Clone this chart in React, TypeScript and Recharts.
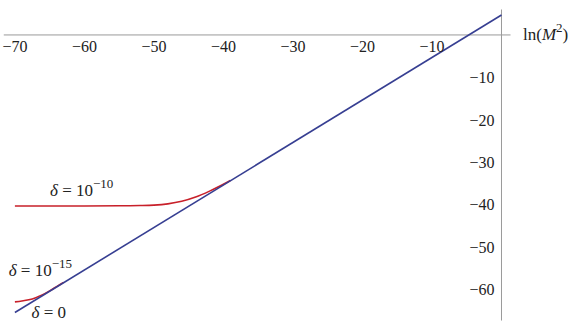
import React from 'react';
import { LineChart, Line, XAxis, YAxis, ReferenceLine, ReferenceDot } from 'recharts';

// delta = 0 (straight line)
const blueX = [-70, 0];
const blueY = [-65.4, 4.7];

// delta = 10^-10
const red10X = [-70, -60, -55, -52, -50, -48, -46, -44, -42, -40.5, -39];
const red10Y = [-40.3, -40.3, -40.25, -40.2, -40.1, -39.8, -39.2, -38.2, -36.8, -35.6, -34.3];

// delta = 10^-15
const red15X = [-70, -69, -68, -67, -66, -65, -64, -63];
const red15Y = [-62.9, -62.7, -62.4, -61.9, -61.2, -60.3, -59.3, -58.3];

const xTicks = [-70, -60, -50, -40, -30, -20, -10];
const yTicks = [-10, -20, -30, -40, -50, -60];

const BLUE = '#373f92';
const RED = '#c8202a';
const AXIS = '#9a9a9a';
const TEXT = '#222';
const FONT = '"Liberation Serif", "DejaVu Serif", serif';
const SUP_SHIFT = 8;

const toPoints = (xs: number[], ys: number[]) => xs.map((x, i) => ({ x, y: ys[i] }));

const minus = (n: number) => (n < 0 ? '\u2212' + Math.abs(n) : String(n));

// label with italic parts and superscripts
const RichLabel = ({ viewBox, parts }: any) => {
    const x = viewBox.x + viewBox.width / 2;
    const y = viewBox.y + viewBox.height / 2;
    let prevSup = false;
    return (
        <text x={x} y={y} dy="0.35em" textAnchor="start" fontFamily={FONT} fontSize={17} fill={TEXT}>
            {parts.map((p: any, i: number) => {
                let dy: number | undefined;
                if (p.sup && !prevSup) dy = -SUP_SHIFT;
                if (!p.sup && prevSup) dy = SUP_SHIFT;
                prevSup = !!p.sup;
                return (
                    <tspan key={i} dy={dy} fontSize={p.sup ? 13 : 17} fontStyle={p.i ? 'italic' : 'normal'}>{p.t}</tspan>
                );
            })}
        </text>
    );
};

export default function App() {
    return (
        <div style={{ position: 'absolute', left: 0, top: 0, width: 572, height: 334, background: '#fff' }}>
            <LineChart width={572} height={334} margin={{ top: 1, right: 1, bottom: 2, left: 1 }}>
                <XAxis type="number" dataKey="x" domain={[-72, 10]} hide allowDataOverflow />
                <YAxis type="number" dataKey="y" domain={[-70, 8]} hide allowDataOverflow />

                {/* axes crossing at the origin */}
                <ReferenceLine segment={[{ x: -71.6, y: 0 }, { x: 1.3, y: 0 }]} stroke={AXIS} strokeWidth={1} />
                <ReferenceLine segment={[{ x: 0, y: 6 }, { x: 0, y: -67.3 }]} stroke={AXIS} strokeWidth={1} />

                {xTicks.map(t => (
                    <ReferenceDot key={'xt' + t} x={t} y={0} r={1} fill="none" stroke="none"
                        label={{ value: minus(t), position: 'bottom', offset: 5, fill: TEXT, fontSize: 16, fontFamily: FONT }} />
                ))}
                {yTicks.map(t => (
                    <ReferenceDot key={'yt' + t} x={0} y={t} r={1} fill="none" stroke="none"
                        label={{ value: minus(t), position: 'left', offset: 6, fill: TEXT, fontSize: 16, fontFamily: FONT }} />
                ))}

                <Line data={toPoints(red10X, red10Y)} dataKey="y" type="monotone" stroke={RED} strokeWidth={1.6} dot={false} isAnimationActive={false} />
                <Line data={toPoints(red15X, red15Y)} dataKey="y" type="monotone" stroke={RED} strokeWidth={1.6} dot={false} isAnimationActive={false} />
                <Line data={toPoints(blueX, blueY)} dataKey="y" type="linear" stroke={BLUE} strokeWidth={1.6} dot={false} isAnimationActive={false} />

                <ReferenceDot x={3.1} y={0.2} r={1} fill="none" stroke="none"
                    label={<RichLabel parts={[{ t: 'ln(' }, { t: 'M', i: true }, { t: '2', sup: true }, { t: ')' }]} />} />
                <ReferenceDot x={-64.95} y={-36.6} r={1} fill="none" stroke="none"
                    label={<RichLabel parts={[{ t: '\u03b4', i: true }, { t: ' = 10' }, { t: '\u221210', sup: true }]} />} />
                <ReferenceDot x={-70.9} y={-55.4} r={1} fill="none" stroke="none"
                    label={<RichLabel parts={[{ t: '\u03b4', i: true }, { t: ' = 10' }, { t: '\u221215', sup: true }]} />} />
                <ReferenceDot x={-67.6} y={-65.3} r={1} fill="none" stroke="none"
                    label={<RichLabel parts={[{ t: '\u03b4', i: true }, { t: ' = 0' }]} />} />
            </LineChart>
        </div>
    );
}
